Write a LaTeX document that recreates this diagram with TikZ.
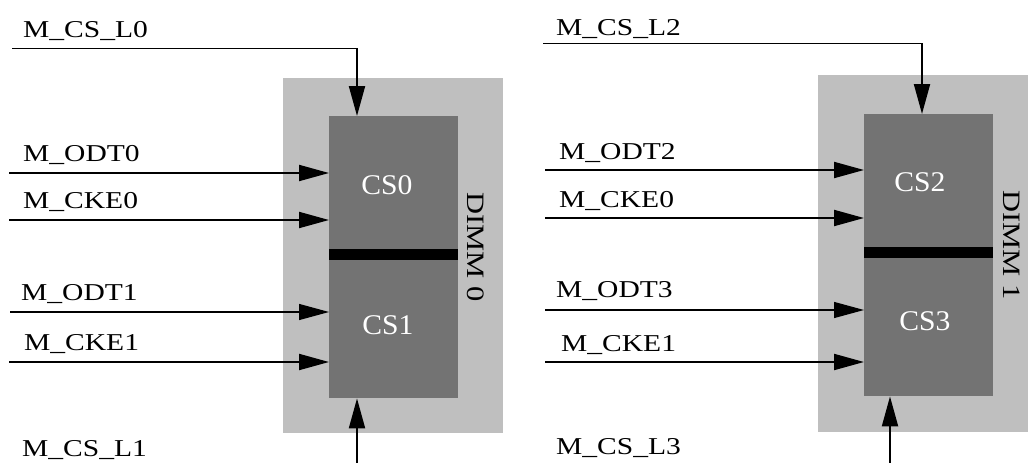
\documentclass[tikz,border=0pt]{standalone}
\usepackage{fontspec}
\setmainfont{Liberation Serif}[FakeStretch=1.22]
\newfontfamily\csfont{Liberation Serif}[FakeStretch=1.04]
\usetikzlibrary{arrows.meta}
\definecolor{dimmgray}{RGB}{191,191,191}
\definecolor{csgray}{RGB}{115,115,115}
\begin{document}
\begin{tikzpicture}[x=1pt,y=-1pt,
  outerbox/.style={fill=dimmgray, draw=none, inner sep=0pt, anchor=north west, minimum width=#1},
  csblock/.style={fill=csgray, draw=none, inner sep=0pt, anchor=north west, minimum width=129pt},
  sepbar/.style={fill=black, draw=none, inner sep=0pt, minimum width=129pt, minimum height=11pt},
  cstext/.style={text=white, inner sep=0pt, font=\csfont\fontsize{28.5}{30}\selectfont},
  sigtext/.style={anchor=base west, inner sep=0pt, font=\fontsize{24.2}{28}\selectfont},
  dimmtext/.style={rotate=-90, anchor=base west, inner sep=0pt, font=\fontsize{25}{28}\selectfont},
  sig/.style={-{Triangle[length=30pt,width=16pt]}, line width=2pt},
  sigthin/.style={-{Triangle[length=30pt,width=16pt]}, line width=1.2pt},
  wire/.style={line width=1pt}
]
\useasboundingbox (0,0) rectangle (1028,463);

% ---------- DIMM 0 ----------
\node[outerbox=220pt, minimum height=355pt] (dimmA) at (283,78) {};
\node[csblock, minimum height=138.5pt] (cs0) at (329,116) {};
\node[csblock, minimum height=143.5pt] (cs1) at (329,254.5) {};
\node[sepbar] (barA) at (393.5,254.5) {};
\node[cstext] (cs0t) at (387,185) {CS0};
\node[cstext] (cs1t) at (388,325) {CS1};
\node[dimmtext] (dimmAt) at (467,192) {DIMM 0};

\node[sigtext] (lcsl0) at (23,37) {M\_CS\_L0};
\node[sigtext] (lodt0) at (23,161) {M\_ODT0};
\node[sigtext] (lcke0) at (23,208) {M\_CKE0};
\node[sigtext] (lodt1) at (21,300) {M\_ODT1};
\node[sigtext] (lcke1) at (24,350) {M\_CKE1};
\node[sigtext] (lcsl1) at (22,456) {M\_CS\_L1};

\coordinate (csl0s) at (12,48);
\coordinate (csl0k) at (357,48);
\coordinate (odt0s) at (9,173);
\coordinate (cke0s) at (9,220);
\coordinate (odt1s) at (10,312);
\coordinate (cke1s) at (9,362);
\coordinate (csl1s) at (357,463);

\draw[wire] (csl0s) -- (csl0k);
\draw[sig] (csl0k) -- (csl0k |- cs0.north);
\draw[sig] (odt0s) -- (odt0s -| cs0.west);
\draw[sig] (cke0s) -- (cke0s -| cs0.west);
\draw[sigthin] (odt1s) -- (odt1s -| cs1.west);
\draw[sig] (cke1s) -- (cke1s -| cs1.west);
\draw[sig] (csl1s) -- (csl1s |- cs1.south);

% ---------- DIMM 1 ----------
\node[outerbox=210pt, minimum height=357pt] (dimmB) at (818,75) {};
\node[csblock, minimum height=138.5pt] (cs2) at (864,114) {};
\node[csblock, minimum height=143.5pt] (cs3) at (864,252.5) {};
\node[sepbar] (barB) at (928.5,252.5) {};
\node[cstext] (cs2t) at (920,182) {CS2};
\node[cstext] (cs3t) at (925,321) {CS3};
\node[dimmtext] (dimmBt) at (1003,190) {DIMM 1};

\node[sigtext] (lcsl2) at (556,35) {M\_CS\_L2};
\node[sigtext] (lodt2) at (559,159) {M\_ODT2};
\node[sigtext] (lcke0b) at (559,207) {M\_CKE0};
\node[sigtext] (lodt3) at (556,297) {M\_ODT3};
\node[sigtext] (lcke1b) at (561,351) {M\_CKE1};
\node[sigtext] (lcsl3) at (556,454) {M\_CS\_L3};

\coordinate (csl2s) at (543,43);
\coordinate (csl2k) at (922,43);
\coordinate (odt2s) at (545,170);
\coordinate (cke0bs) at (545,218);
\coordinate (odt3s) at (545,310);
\coordinate (cke1bs) at (545,362);
\coordinate (csl3s) at (890,463);

\draw[wire] (csl2s) -- (csl2k);
\draw[sig] (csl2k) -- (csl2k |- cs2.north);
\draw[sig] (odt2s) -- (odt2s -| cs2.west);
\draw[sig] (cke0bs) -- (cke0bs -| cs2.west);
\draw[sigthin] (odt3s) -- (odt3s -| cs3.west);
\draw[sig] (cke1bs) -- (cke1bs -| cs3.west);
\draw[sig] (csl3s) -- (csl3s |- cs3.south);
\end{tikzpicture}
\end{document}
